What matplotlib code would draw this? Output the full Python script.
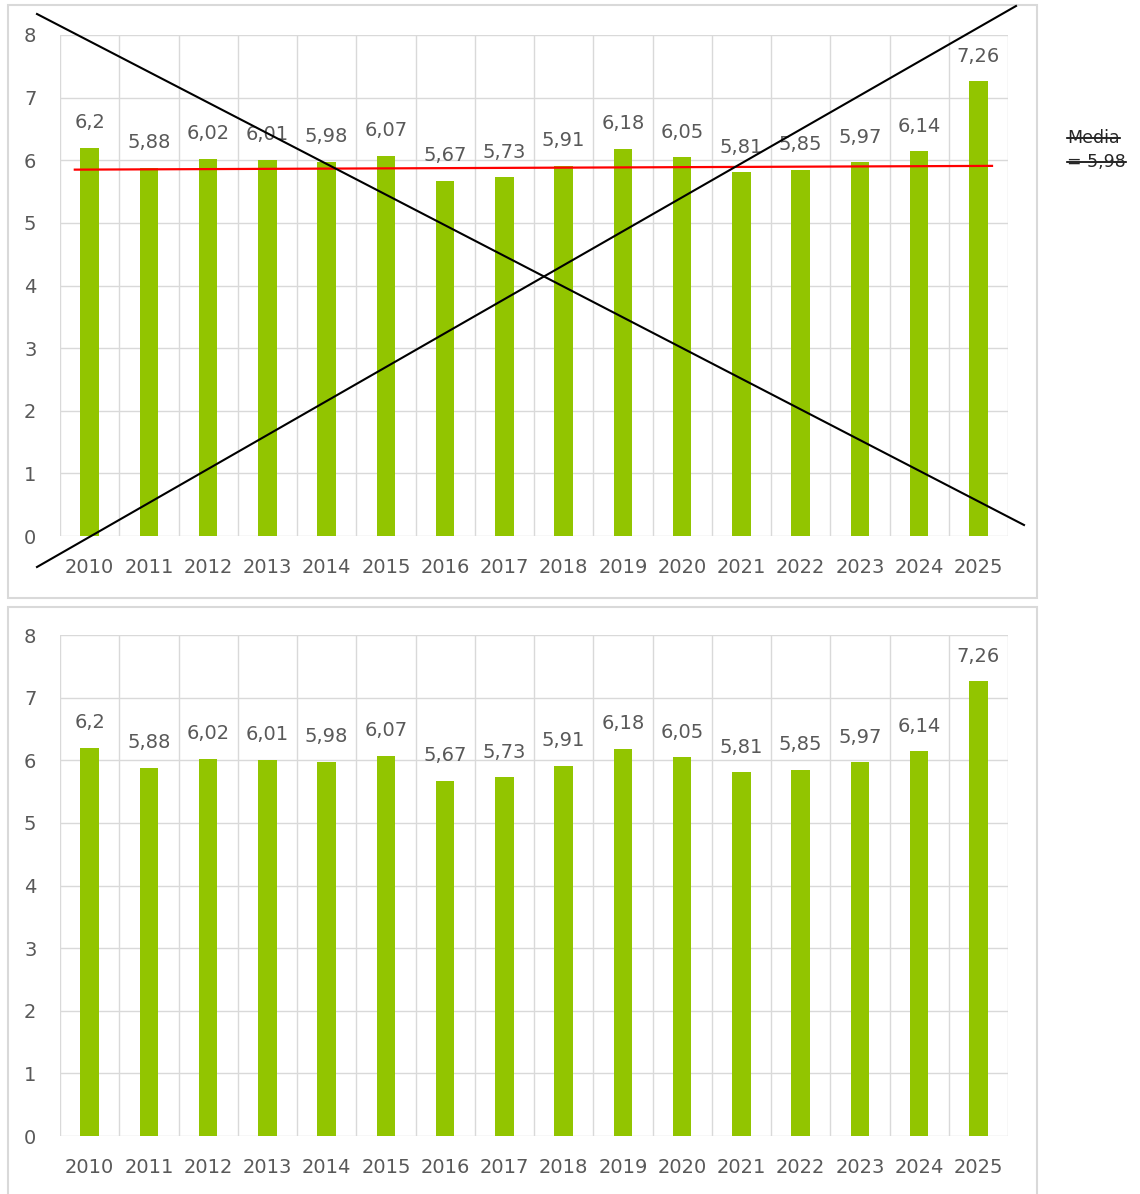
import matplotlib.pyplot as plt
from matplotlib.lines import Line2D
from matplotlib.patches import Rectangle
import numpy as np

years = ['2010', '2011', '2012', '2013', '2014', '2015', '2016', '2017',
         '2018', '2019', '2020', '2021', '2022', '2023', '2024', '2025']
values = [6.2, 5.88, 6.02, 6.01, 5.98, 6.07, 5.67, 5.73,
          5.91, 6.18, 6.05, 5.81, 5.85, 5.97, 6.14, 7.26]
labels = ['6,2', '5,88', '6,02', '6,01', '5,98', '6,07', '5,67', '5,73',
          '5,91', '6,18', '6,05', '5,81', '5,85', '5,97', '6,14', '7,26']
# red reference line in the top chart (start / end value)
media_line = [5.85, 5.91]
media_text = ['Media', '= 5,98']

W, H = 1140, 1194
green = '#92C500'
grid_c = '#D9D9D9'
text_c = '#595959'

plt.rcParams['font.family'] = ['DejaVu Sans']
fig = plt.figure(figsize=(W / 100, H / 100), dpi=100)


def px(x0, y0, x1, y1):
    # pixel box (top-left origin) -> figure fraction rect
    return [x0 / W, 1 - y1 / H, (x1 - x0) / W, (y1 - y0) / H]


# light grey chart frames
fig.patches.append(Rectangle((8 / W, 1 - 598 / H), 1029 / W, 593 / H,
                             transform=fig.transFigure, fill=False,
                             edgecolor=grid_c, linewidth=1.5))
fig.patches.append(Rectangle((8 / W, 1 - 1220 / H), 1029 / W, 613 / H,
                             transform=fig.transFigure, fill=False,
                             edgecolor=grid_c, linewidth=1.5))


def bar_chart(ax):
    x = np.arange(len(years))
    ax.bar(x, values, width=0.31, color=green, zorder=3)
    for xi, v, lab in zip(x, values, labels):
        ax.annotate(lab, (xi, v), xytext=(0, 18), textcoords='offset points',
                    ha='center', va='center', fontsize=14, color=text_c,
                    zorder=4)
    ax.set_xlim(-0.5, len(years) - 0.5)
    ax.set_ylim(0, 8)
    ax.set_yticks(range(0, 9))
    ax.set_xticks(x)
    ax.set_xticklabels(years)
    ax.set_xticks(np.arange(-0.5, len(years)), minor=True)
    ax.grid(True, axis='y', color=grid_c, linewidth=1.0, zorder=0)
    ax.grid(True, axis='x', which='minor', color=grid_c, linewidth=1.0, zorder=0)
    ax.tick_params(axis='both', which='both', length=0, labelsize=14,
                   colors=text_c)
    ax.tick_params(axis='y', pad=17)
    ax.tick_params(axis='x', pad=16)
    for s in ax.spines.values():
        s.set_visible(False)


ax1 = fig.add_axes(px(60, 35, 1008, 536))
bar_chart(ax1)
ax1.plot([-0.25, 15.23], media_line, color='red', linewidth=1.6, zorder=5)

ax2 = fig.add_axes(px(60, 635, 1008, 1136))
bar_chart(ax2)

# the two black strike lines crossing the top chart (figure pixels)
cross = [((37, 14), (1024, 525)), ((37, 567), (1016, 6))]
for (xa, ya), (xb, yb) in cross:
    fig.add_artist(Line2D([xa / W, xb / W], [1 - ya / H, 1 - yb / H],
                          transform=fig.transFigure, color='black',
                          linewidth=1.5))

# struck-through "Media = 5,98" note
fig.canvas.draw()
rend = fig.canvas.get_renderer()
for i, t in enumerate(media_text):
    txt = fig.text(1067 / W, 1 - (138 + 24 * i) / H, t, fontsize=12.5,
                   color='#262626', ha='left', va='center')
    bb = txt.get_window_extent(renderer=rend)
    ymid = (bb.y0 + bb.y1) / 2 / H
    fig.add_artist(Line2D([bb.x0 / W, bb.x1 / W], [ymid, ymid],
                          transform=fig.transFigure, color='black',
                          linewidth=1.2))

fig.savefig('out.png', dpi=100)
